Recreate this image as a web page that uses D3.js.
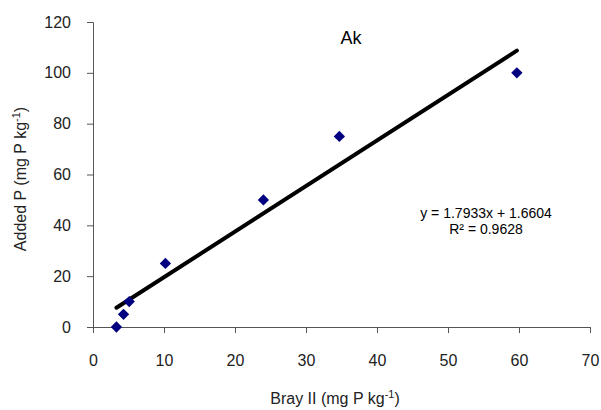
<!DOCTYPE html>
<html>
<head>
<meta charset="utf-8">
<script src="https://cdn.jsdelivr.net/npm/d3@7"></script>
<style>
  body { margin: 0; background: #fff; }
  text { font-family: "Liberation Sans", Arial, sans-serif; }
</style>
</head>
<body>
<div id="chart"></div>
<script>
// values
const brayII = [3.3, 4.3, 5.1, 10.2, 24, 34.7, 59.7];
const addedP = [0, 5, 10, 25, 50, 75, 100];
const xTicks = [0, 10, 20, 30, 40, 50, 60, 70];
const yTicks = [0, 20, 40, 60, 80, 100, 120];
const slope = 1.7933, intercept = 1.6604, r2 = 0.9628;

const width = 601, height = 410;
const margin = { left: 93, right: 11, top: 22, bottom: 83 };

const svg = d3.select('#chart').append('svg')
  .attr('width', width)
  .attr('height', height);

const x = d3.scaleLinear().domain([0, 70]).range([margin.left, width - margin.right]);
const y = d3.scaleLinear().domain([0, 120]).range([height - margin.bottom, margin.top]);

// x axis
const xAxis = svg.append('g')
  .attr('transform', 'translate(0,' + y(0) + ')')
  .call(d3.axisBottom(x).tickValues(xTicks).tickSize(6).tickPadding(22).tickFormat(d3.format('d')));
xAxis.select('.domain').attr('stroke', '#555');
xAxis.selectAll('.tick line').attr('stroke', '#555');
xAxis.selectAll('.tick text').attr('font-size', 16).attr('fill', '#222')
  .attr('font-family', '"Liberation Sans", Arial, sans-serif');

// y axis
const yAxis = svg.append('g')
  .attr('transform', 'translate(' + x(0) + ',0)')
  .call(d3.axisLeft(y).tickValues(yTicks).tickSize(6).tickPadding(16).tickFormat(d3.format('d')));
yAxis.select('.domain').attr('stroke', '#555');
yAxis.selectAll('.tick line').attr('stroke', '#555');
yAxis.selectAll('.tick text').attr('font-size', 16).attr('fill', '#222')
  .attr('font-family', '"Liberation Sans", Arial, sans-serif');

// trendline over the data range
const xMin = d3.min(brayII), xMax = d3.max(brayII);
svg.append('line')
  .attr('x1', x(xMin)).attr('y1', y(slope * xMin + intercept))
  .attr('x2', x(xMax)).attr('y2', y(slope * xMax + intercept))
  .attr('stroke', '#000')
  .attr('stroke-width', 4)
  .attr('stroke-linecap', 'round');

// diamond markers
const pts = brayII.map((d, i) => [d, addedP[i]]);
svg.selectAll('path.pt')
  .data(pts)
  .enter()
  .append('path')
  .attr('class', 'pt')
  .attr('d', d3.symbol().type(d3.symbolSquare).size(64))
  .attr('transform', (d) => 'translate(' + x(d[0]) + ',' + y(d[1]) + ') rotate(45)')
  .attr('fill', '#000080');

// chart label
svg.append('text')
  .attr('x', 351).attr('y', 44)
  .attr('text-anchor', 'middle')
  .attr('font-size', 18)
  .attr('fill', '#000')
  .text('Ak');

// equation
svg.append('text')
  .attr('x', 486).attr('y', 218)
  .attr('text-anchor', 'middle')
  .attr('font-size', 14)
  .attr('fill', '#000')
  .text('y = ' + slope + 'x + ' + intercept);
svg.append('text')
  .attr('x', 486).attr('y', 234)
  .attr('text-anchor', 'middle')
  .attr('font-size', 14)
  .attr('fill', '#000')
  .text('R² = ' + r2);

// axis titles
const xt = svg.append('text')
  .attr('x', 335).attr('y', 404)
  .attr('text-anchor', 'middle')
  .attr('font-size', 16)
  .attr('fill', '#222');
xt.append('tspan').text('Bray II (mg P kg');
xt.append('tspan').attr('dy', -6).attr('font-size', 11).text('-1');
xt.append('tspan').attr('dy', 6).text(')');

const yt = svg.append('text')
  .attr('transform', 'translate(26,' + 179 + ') rotate(-90)')
  .attr('text-anchor', 'middle')
  .attr('font-size', 16)
  .attr('fill', '#222');
yt.append('tspan').text('Added P (mg P kg');
yt.append('tspan').attr('dy', -6).attr('font-size', 11).text('-1');
yt.append('tspan').attr('dy', 6).text(')');
</script>
</body>
</html>
